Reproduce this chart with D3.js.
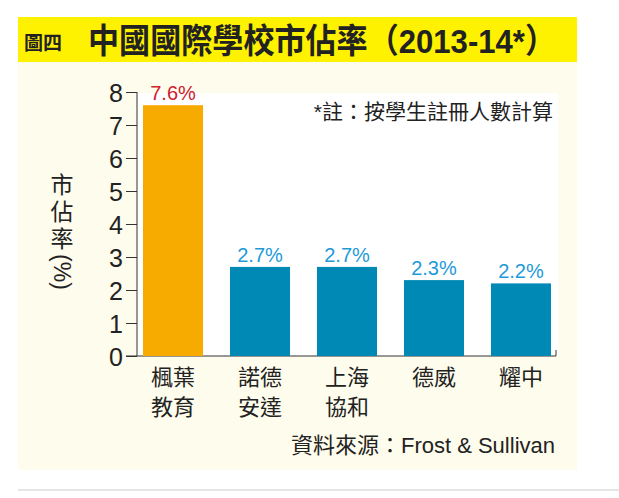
<!DOCTYPE html><html><head><meta charset="utf-8">
<script src="https://cdn.jsdelivr.net/npm/d3@7"></script>
<style>body{margin:0;background:#fff}text{font-family:"Liberation Sans","Noto Sans CJK TC",sans-serif}</style></head><body>
<script>
const categories=[["楓葉","教育"],["諾德","安達"],["上海","協和"],["德威"],["耀中"]];
const values=[7.6,2.7,2.7,2.3,2.2];
const labels=["7.6%","2.7%","2.7%","2.3%","2.2%"];
const ticks=[0,1,2,3,4,5,6,7,8];
const svg=d3.select("body").append("svg").attr("width",619).attr("height",498);
svg.append("rect").attr("x",18).attr("y",17).attr("width",559).attr("height",453).attr("fill","#fefcec");
svg.append("rect").attr("x",18).attr("y",17).attr("width",559).attr("height",45).attr("fill","#fff200");
svg.append("line").attr("x1",18).attr("x2",619).attr("y1",490).attr("y2",490).attr("stroke","#ddd").attr("stroke-width",1.5);
svg.append("text").attr("x",24).attr("y",50).attr("font-size",19).attr("font-weight","bold").attr("fill","#222").text("圖四");
svg.append("text").attr("x",88).attr("y",53).attr("font-size",34).attr("font-weight","bold").attr("fill","#222").attr("textLength",468).attr("lengthAdjust","spacingAndGlyphs").text("中國國際學校市佔率（2013-14*）");
svg.append("rect").attr("x",137).attr("y",93).attr("width",421).attr("height",263).attr("fill","#fff");
const y=d3.scaleLinear().domain([0,8]).range([356,92]);
const x=d3.scaleBand().domain(d3.range(5)).range([137,557]).paddingInner(0.31).paddingOuter(0.069);
const ax=svg.append("g").attr("transform","translate(137,0)").call(d3.axisLeft(y).tickValues(ticks).tickSize(11).tickPadding(3));
ax.select(".domain").attr("stroke","#333").attr("d","M0,92V356");
ax.selectAll(".tick line").attr("stroke","#333");
ax.selectAll(".tick text").attr("font-size",25).attr("fill","#222").attr("dy","0.36em");
svg.append("path").attr("d","M126,356H556V350").attr("fill","none").attr("stroke","#333");
svg.selectAll(".bar").data(values).join("rect").attr("x",(d,i)=>x(i)).attr("width",x.bandwidth())
 .attr("y",d=>y(d)).attr("height",d=>356-y(d)).attr("fill",(d,i)=>i==0?"#f7ab00":"#0089b5");
svg.selectAll(".lab").data(values).join("text").attr("x",(d,i)=>x(i)+x.bandwidth()/2).attr("y",d=>y(d)-5)
 .attr("text-anchor","middle").attr("font-size",20).attr("fill",(d,i)=>i==0?"#d0202e":"#1e9ad8").text((d,i)=>labels[i]);
categories.forEach((c,i)=>c.forEach((t,j)=>svg.append("text").attr("x",x(i)+x.bandwidth()/2).attr("y",385+j*30)
 .attr("text-anchor","middle").attr("font-size",22).attr("fill","#222").text(t)));
svg.append("text").attr("x",553).attr("y",119).attr("text-anchor","end").attr("font-size",21).attr("fill","#222").text("*註：按學生註冊人數計算");
svg.append("text").attr("x",555).attr("y",453).attr("text-anchor","end").attr("font-size",22).attr("fill","#222").text("資料來源：Frost & Sullivan");
["市","佔","率"].forEach((t,i)=>svg.append("text").attr("x",62).attr("y",193+i*27).attr("text-anchor","middle").attr("font-size",23).attr("fill","#222").text(t));
svg.append("text").attr("transform","translate(54,272) rotate(90)").attr("text-anchor","middle").attr("font-size",23).attr("fill","#222").text("(%)");
</script></body></html>
